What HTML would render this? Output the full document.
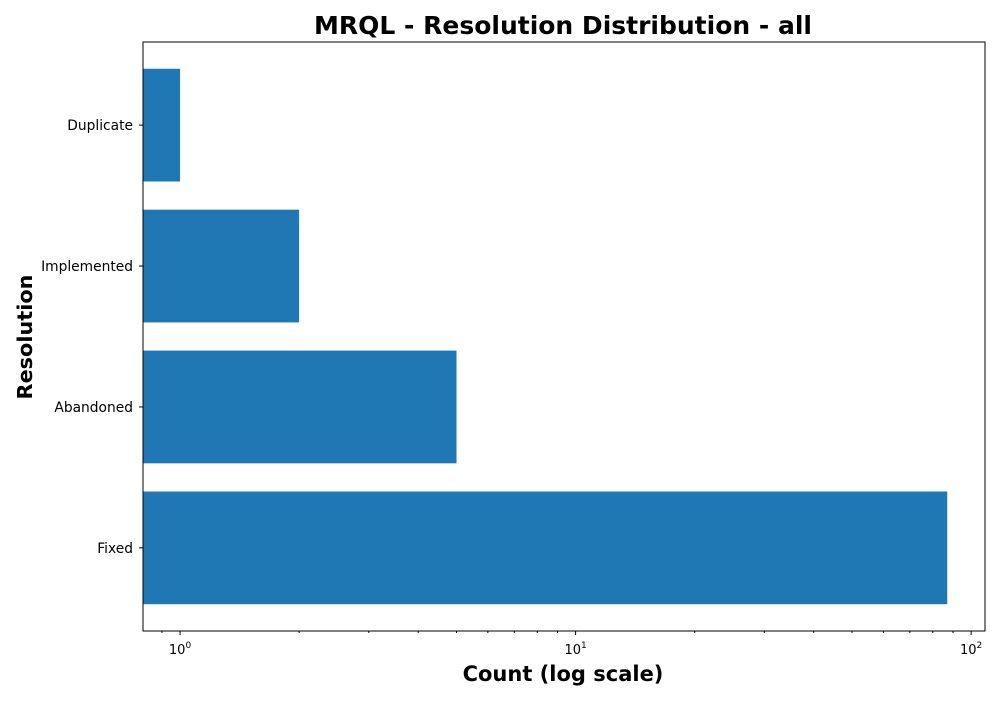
<!DOCTYPE html>
<html><head><meta charset="utf-8"><style>
body{margin:0;background:#fff;}
svg text{font-family:"DejaVu Sans","Liberation Sans",sans-serif;}
</style></head><body>
<svg id="chart" width="1000" height="700" xmlns="http://www.w3.org/2000/svg">
<rect width="1000" height="700" fill="#fff"/>
<text x="563" y="34" text-anchor="middle" font-size="25" font-weight="bold">MRQL - Resolution Distribution - all</text>
<g id="plot"></g>
<rect x="143" y="42" width="842" height="589" fill="none" stroke="#000" stroke-width="1"/>
<text x="563" y="681" text-anchor="middle" font-size="21" font-weight="bold">Count (log scale)</text>
<text transform="translate(32,337) rotate(-90)" text-anchor="middle" font-size="20.8" font-weight="bold">Resolution</text>
</svg>
<script>
const categories = ["Fixed","Abandoned","Implemented","Duplicate"];
const counts = [87, 5, 2, 1];
const majorTicks = [1, 10, 100];
const ns="http://www.w3.org/2000/svg";
const L=143,R=985,T=42,B=631;
const lmin=Math.log10(0.806), lmax=Math.log10(108.4);
function xs(v){return L+(Math.log10(v)-lmin)/(lmax-lmin)*(R-L);}
function ys(i){return B-(i-(-0.59))/(3.59-(-0.59))*(B-T);}
const g=document.getElementById('plot');
function mk(t,a){const e=document.createElementNS(ns,t);for(const k in a)e.setAttribute(k,a[k]);g.appendChild(e);return e;}
categories.forEach((c,i)=>{
  const yc=ys(i), h=(ys(0)-ys(0.8));
  const r=mk('rect',{x:L,y:yc-h/2,width:Math.max(0,xs(counts[i])-L),height:h,fill:'#1f77b4'});
  
  
  const tk=mk('line',{x1:L-4,x2:L,y1:yc,y2:yc,stroke:'#000'});
  
  
  const tl=mk('text',{x:L-10,y:yc+5,'text-anchor':'end','font-size':13.8});
  tl.textContent=c;
  
  
});
for(let d=0.1;d<=100;d*=10){for(let m=2;m<=9;m++){const v=d*m;const x=xs(v);if(x<L||x>R)continue;
  const t=mk('line',{x1:x,x2:x,y1:B,y2:B+2,stroke:'#000'});
  
  }}
majorTicks.forEach((v,i)=>{
  const x=xs(v);
  const t=mk('line',{x1:x,x2:x,y1:B,y2:B+4,stroke:'#000'});
  
  
  const tl=mk('text',{x:x,y:B+23,'text-anchor':'middle','font-size':13});
  tl.innerHTML='10<tspan dy="-6" font-size="9">'+Math.round(Math.log10(v))+'</tspan>';
  
  
});
</script>
</body></html>
